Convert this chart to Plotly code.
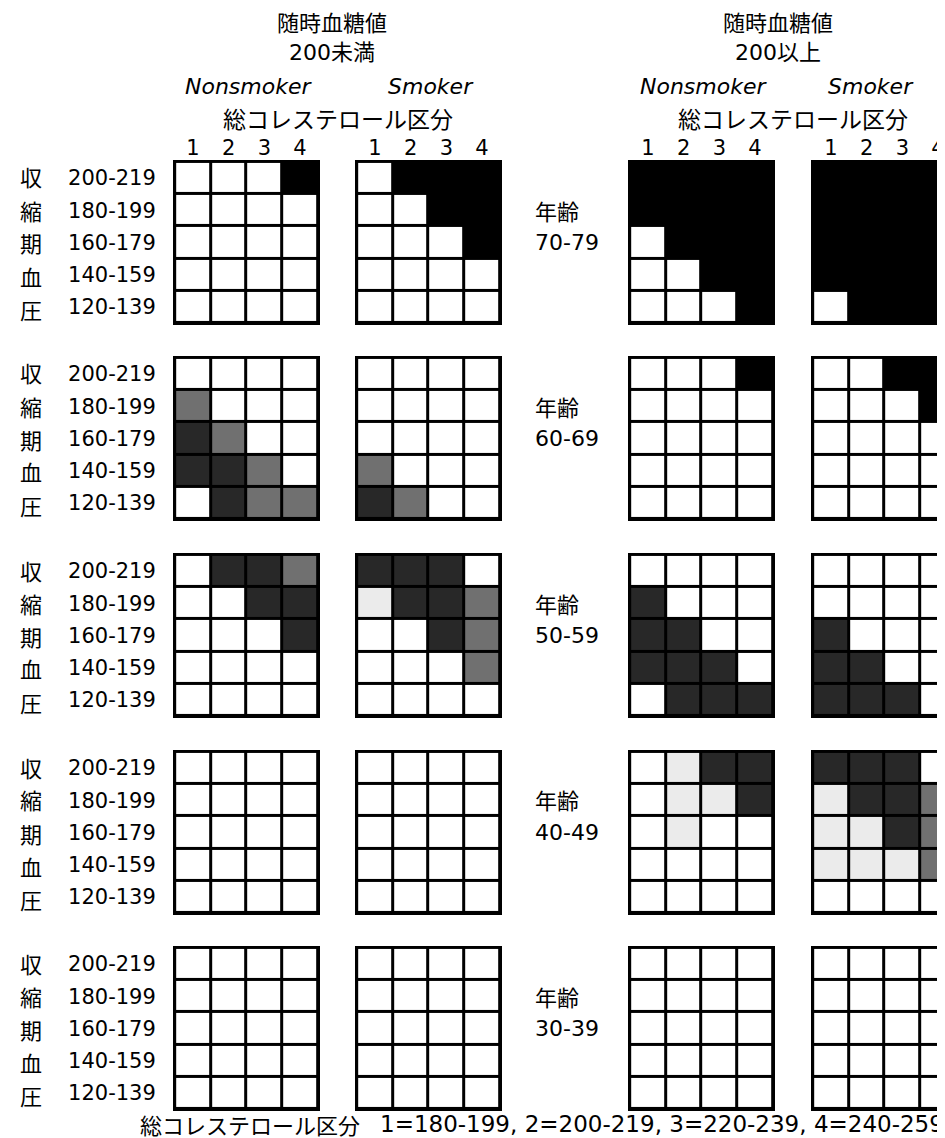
import plotly.graph_objects as go

W, H = 945, 1138

# ---------------- data ----------------
age_groups = ["70-79", "60-69", "50-59", "40-49", "30-39"]
sbp_labels = ["200-219", "180-199", "160-179", "140-159", "120-139"]
sbp_kanji = ["収", "縮", "期", "血", "圧"]
chol_cats = [1, 2, 3, 4]
smoke_titles = ["Nonsmoker", "Smoker", "Nonsmoker", "Smoker"]
glucose_titles = ["随時血糖値<br>200未満", "随時血糖値<br>200以上"]
chol_title = "総コレステロール区分"
footer_label = "総コレステロール区分"
footer_legend = "1=180-199, 2=200-219, 3=220-239, 4=240-259"

# risk level per cell (0 = white ... 4 = black); rows = SBP high->low, cols = chol 1..4
# panels: [Nonsmoker <200, Smoker <200, Nonsmoker >=200, Smoker >=200]
age70 = [
    [[0, 0, 0, 4], [0, 0, 0, 0], [0, 0, 0, 0], [0, 0, 0, 0], [0, 0, 0, 0]],
    [[0, 4, 4, 4], [0, 0, 4, 4], [0, 0, 0, 4], [0, 0, 0, 0], [0, 0, 0, 0]],
    [[4, 4, 4, 4], [4, 4, 4, 4], [0, 4, 4, 4], [0, 0, 4, 4], [0, 0, 0, 4]],
    [[4, 4, 4, 4], [4, 4, 4, 4], [4, 4, 4, 4], [4, 4, 4, 4], [0, 4, 4, 4]],
]
age60 = [
    [[0, 0, 0, 0], [2, 0, 0, 0], [3, 2, 0, 0], [3, 3, 2, 0], [0, 3, 2, 2]],
    [[0, 0, 0, 0], [0, 0, 0, 0], [0, 0, 0, 0], [2, 0, 0, 0], [3, 2, 0, 0]],
    [[0, 0, 0, 4], [0, 0, 0, 0], [0, 0, 0, 0], [0, 0, 0, 0], [0, 0, 0, 0]],
    [[0, 0, 4, 4], [0, 0, 0, 4], [0, 0, 0, 0], [0, 0, 0, 0], [0, 0, 0, 0]],
]
age50 = [
    [[0, 3, 3, 2], [0, 0, 3, 3], [0, 0, 0, 3], [0, 0, 0, 0], [0, 0, 0, 0]],
    [[3, 3, 3, 0], [1, 3, 3, 2], [0, 0, 3, 2], [0, 0, 0, 2], [0, 0, 0, 0]],
    [[0, 0, 0, 0], [3, 0, 0, 0], [3, 3, 0, 0], [3, 3, 3, 0], [0, 3, 3, 3]],
    [[0, 0, 0, 0], [0, 0, 0, 0], [3, 0, 0, 0], [3, 3, 0, 0], [3, 3, 3, 0]],
]
age40 = [
    [[0, 0, 0, 0], [0, 0, 0, 0], [0, 0, 0, 0], [0, 0, 0, 0], [0, 0, 0, 0]],
    [[0, 0, 0, 0], [0, 0, 0, 0], [0, 0, 0, 0], [0, 0, 0, 0], [0, 0, 0, 0]],
    [[0, 1, 3, 3], [0, 1, 1, 3], [0, 1, 0, 0], [0, 0, 0, 0], [0, 0, 0, 0]],
    [[3, 3, 3, 0], [1, 3, 3, 2], [1, 1, 3, 2], [1, 1, 1, 2], [0, 0, 0, 0]],
]
age30 = [
    [[0, 0, 0, 0], [0, 0, 0, 0], [0, 0, 0, 0], [0, 0, 0, 0], [0, 0, 0, 0]],
    [[0, 0, 0, 0], [0, 0, 0, 0], [0, 0, 0, 0], [0, 0, 0, 0], [0, 0, 0, 0]],
    [[0, 0, 0, 0], [0, 0, 0, 0], [0, 0, 0, 0], [0, 0, 0, 0], [0, 0, 0, 0]],
    [[0, 0, 0, 0], [0, 0, 0, 0], [0, 0, 0, 0], [0, 0, 0, 0], [0, 0, 0, 0]],
]
level_colors = ["#ffffff", "#ebebeb", "#707070", "#282828", "#000000"]

# ---------------- layout geometry (pixels) ----------------
panel_left = [165, 347, 620, 803]
panel_w = 147
panel_top = [152, 348, 545, 742, 938]
panel_h = 165
pad = 0.06  # extra range beyond cells -> outer border

JP = "Noto Sans CJK JP"
LAT = "DejaVu Sans, Noto Sans CJK JP"


def px_x(x):
    return x / W


def px_y(y):
    return 1 - y / H


# discrete colorscale
n = len(level_colors)
colorscale = []
for i, c in enumerate(level_colors):
    colorscale.append([i / n, c])
    colorscale.append([(i + 1) / n, c])

fig = go.Figure()
all_ages = [age70, age60, age50, age40, age30]
layout_axes = {}
for r, panels in enumerate(all_ages):
    for c, z in enumerate(panels):
        k = r * 4 + c + 1
        xa = "x" if k == 1 else f"x{k}"
        ya = "y" if k == 1 else f"y{k}"
        fig.add_trace(go.Heatmap(
            z=z, x=chol_cats, y=[1, 2, 3, 4, 5],
            xaxis=xa, yaxis=ya,
            colorscale=colorscale, zmin=-0.5, zmax=n - 0.5,
            showscale=False, xgap=3, ygap=3, hoverinfo="skip",
        ))
        left = panel_left[c]
        vis_w = min(panel_w, W - left)
        x0 = 0.5 - pad
        span = 4 + 2 * pad
        x1 = x0 + span * vis_w / panel_w
        xdict = dict(
            domain=[px_x(left), px_x(left + vis_w)],
            range=[x0, x1], anchor=ya,
            showgrid=False, zeroline=False, fixedrange=True,
            showticklabels=(r == 0), side="top", ticks="",
            tickvals=chol_cats, tickfont=dict(family=LAT, size=21, color="black"),
        )
        ydict = dict(
            domain=[px_y(panel_top[r] + panel_h), px_y(panel_top[r])],
            range=[5.5 + pad, 0.5 - pad], anchor=xa,
            showgrid=False, zeroline=False, fixedrange=True,
            showticklabels=(c == 0), tickvals=[1, 2, 3, 4, 5], ticktext=sbp_labels,
            ticks="outside" if c == 0 else "", ticklen=12, tickcolor="rgba(0,0,0,0)",
            tickfont=dict(family=LAT, size=21, color="black"),
        )
        layout_axes["xaxis" if k == 1 else f"xaxis{k}"] = xdict
        layout_axes["yaxis" if k == 1 else f"yaxis{k}"] = ydict

annotations = []


def add_text(text, x, y, size, family=JP, xanchor="center"):
    annotations.append(dict(
        text=text, x=px_x(x), y=px_y(y), xref="paper", yref="paper",
        showarrow=False, xanchor=xanchor, yanchor="middle",
        font=dict(family=family, size=size, color="black"),
    ))


# glucose headers (two lines in one text)
glucose_centers = [324, 770]
for gi in range(2):
    add_text(glucose_titles[gi], glucose_centers[gi], 30, 22, LAT)
    add_text(chol_title, glucose_centers[gi] + (6 if gi == 0 else 15), 110, 23, JP)

# smoker headers
smoke_centers = [240, 423, 695, 863]
for t, cx in zip(smoke_titles, smoke_centers):
    add_text(f"<i>{t}</i>", cx, 78, 22, "DejaVu Sans")

# row labels
cell_h = panel_h / 5
for r, age in enumerate(age_groups):
    top = panel_top[r]
    for i, kj in enumerate(sbp_kanji):
        add_text(kj, 23, top + cell_h * (i + 0.5), 22, JP)
    add_text("年齢", 525, top + cell_h * 1.5, 22, JP, xanchor="left")
    add_text(age, 525, top + cell_h * 2.5, 22, LAT, xanchor="left")

# footer
add_text(footer_label, 130, 1116, 22, JP, xanchor="left")
add_text(footer_legend, 938, 1116, 23, LAT, xanchor="right")

fig.update_layout(
    width=W, height=H,
    margin=dict(l=0, r=0, t=0, b=0),
    paper_bgcolor="white", plot_bgcolor="black",
    showlegend=False,
    annotations=annotations,
    **layout_axes,
)

fig.write_html("out.html")
